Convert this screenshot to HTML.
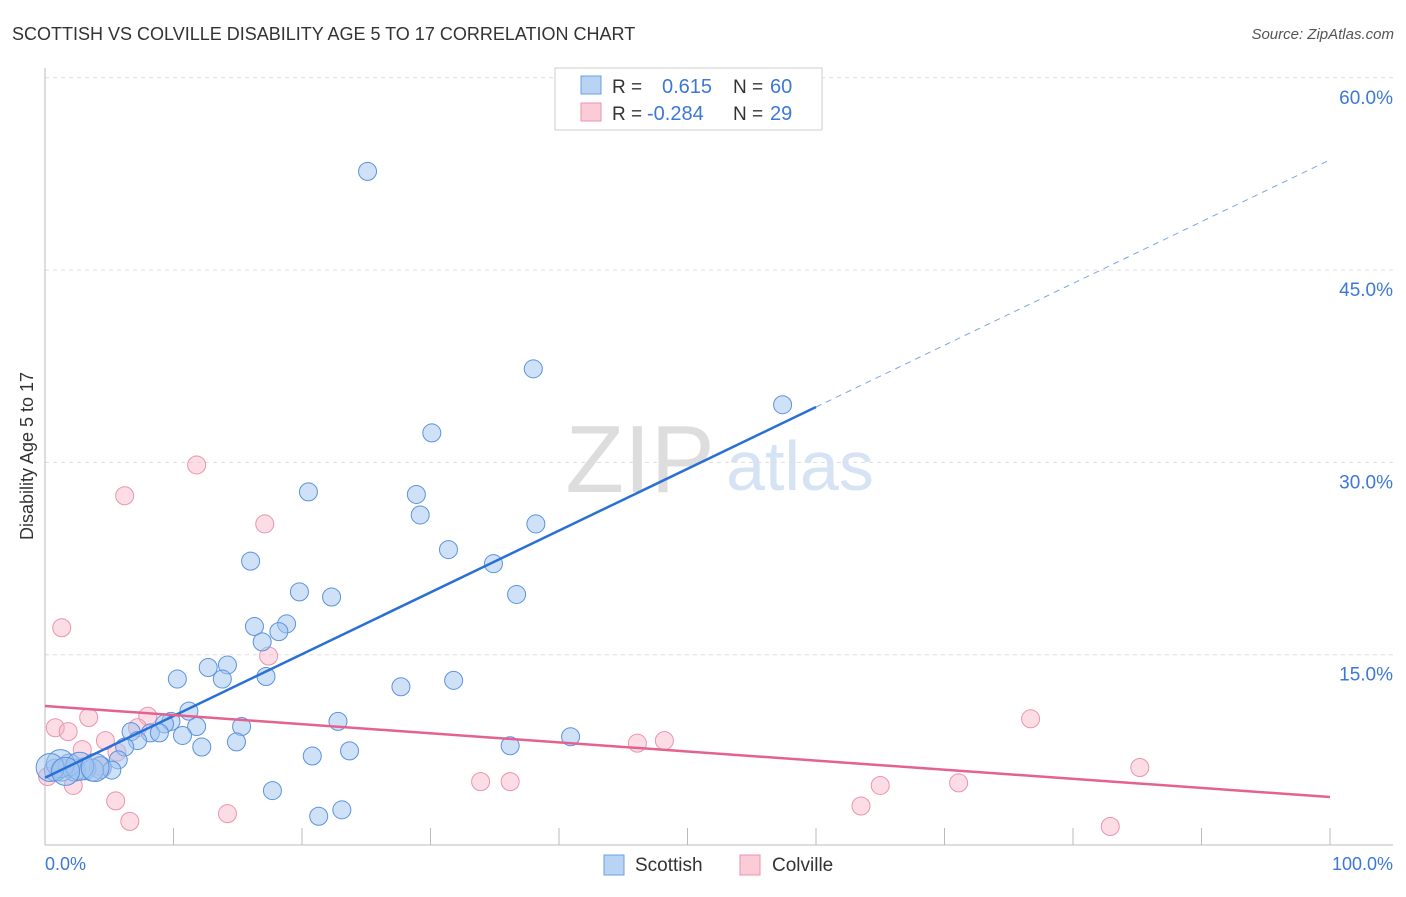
<!DOCTYPE html>
<html><head><meta charset="utf-8"><style>
body{margin:0;background:#fff;font-family:"Liberation Sans",sans-serif;}
svg text{font-family:"Liberation Sans",sans-serif;}
</style></head><body>
<svg id="c" width="1406" height="892" xmlns="http://www.w3.org/2000/svg">
<text x="12" y="40" font-size="18" fill="#333">SCOTTISH VS COLVILLE DISABILITY AGE 5 TO 17 CORRELATION CHART</text>
<text x="1394" y="39" font-size="15" fill="#555" text-anchor="end" font-style="italic">Source: ZipAtlas.com</text>
<text x="640" y="492" font-size="96" fill="#ddd" text-anchor="middle" font-family="Liberation Serif">ZIP</text>
<text x="800" y="490" font-size="70" fill="#d5e3f5" text-anchor="middle">atlas</text>
<text transform="translate(33,456) rotate(-90)" font-size="18" fill="#333" text-anchor="middle">Disability Age 5 to 17</text>
<g id="grid"></g><g id="marks"></g>
<g>
<rect x="555" y="68" width="267" height="62" fill="#fff" stroke="#ccc"/>
<rect x="581" y="76" width="20" height="18" fill="#b9d3f5" stroke="#6a9fe0"/>
<rect x="581" y="103" width="20" height="18" fill="#fbcbd8" stroke="#eb94ac"/>
<text x="612" y="93" font-size="19" fill="#333">R = </text><text x="662" y="93" font-size="20" fill="#3b78d8">0.615</text>
<text x="733" y="93" font-size="19" fill="#333">N = </text><text x="770" y="93" font-size="20" fill="#3b78d8">60</text>
<text x="612" y="120" font-size="19" fill="#333">R = </text><text x="647" y="120" font-size="20" fill="#3b78d8">-0.284</text>
<text x="733" y="120" font-size="19" fill="#333">N = </text><text x="770" y="120" font-size="20" fill="#3b78d8">29</text>
</g>
<g>
<rect x="604" y="855" width="20" height="20" fill="#b9d3f5" stroke="#6a9fe0"/>
<text x="635" y="871" font-size="19" fill="#333">Scottish</text>
<rect x="740" y="855" width="20" height="20" fill="#fbcbd8" stroke="#eb94ac"/>
<text x="772" y="871" font-size="19" fill="#333">Colville</text>
</g>
</svg>
<script>
const yTicks=[15,30,45,60];
const yTickLabels=["15.0%","30.0%","45.0%","60.0%"];
const xTickLabels=["0.0%","100.0%"];
const scottishX=[25.1,38.0,57.4,30.1,20.5,28.9,29.2,38.2,31.4,16.0,34.9,19.8,22.3,36.7,16.3,18.8,16.9,18.2,12.7,14.2,10.3,13.8,17.2,27.7,31.8,11.2,9.8,9.3,11.8,15.3,22.8,10.7,6.7,8.2,8.9,7.2,12.2,14.9,23.7,40.9,36.2,6.2,20.8,5.7,4.3,3.1,2.3,1.3,0.8,1.9,5.2,3.7,17.7,21.3,23.1,1.2,0.4,2.7,1.6,3.9];
const scottishY=[52.7,37.3,34.5,32.3,27.7,27.5,25.9,25.2,23.2,22.3,22.1,19.9,19.5,19.7,17.2,17.4,16.0,16.8,14.0,14.2,13.1,13.1,13.3,12.5,13.0,10.6,9.8,9.6,9.4,9.4,9.8,8.7,9.0,8.9,8.9,8.3,7.8,8.2,7.5,8.6,7.9,7.8,7.1,6.8,6.2,6.1,6.0,6.0,6.0,6.4,6.0,6.0,4.4,2.4,2.9,6.5,6.2,6.3,5.9,6.2];
const colvilleX=[11.8,6.2,17.1,1.3,17.4,76.7,3.4,8.0,0.8,1.8,7.2,4.7,5.6,2.9,46.1,48.2,33.9,36.2,65.0,71.1,85.2,63.5,5.5,14.2,6.6,82.9,2.2,0.2,4.3];
const colvilleY=[29.8,27.4,25.2,17.1,14.9,10.0,10.1,10.2,9.3,9.0,9.3,8.3,7.4,7.6,8.1,8.3,5.1,5.1,4.8,5.0,6.2,3.2,3.6,2.6,2.0,1.6,4.8,5.5,6.3];
const scottishFit=[5.4,0.482]; const colvilleFit=[11.0,-0.071];
const NS="http://www.w3.org/2000/svg";
const X=v=>45+v*12.85, Y=v=>847-v*12.82;
function mk(t,a,p){const e=document.createElementNS(NS,t);for(const k in a)e.setAttribute(k,a[k]);p.appendChild(e);return e;}
const g=document.getElementById('grid'),m=document.getElementById('marks');
yTicks.forEach((t,i)=>{
 const l=mk('line',{x1:45,x2:1393,y1:Y(t),y2:Y(t),stroke:'#ddd','stroke-dasharray':'4,4'},g);
 
 
 const tx=mk('text',{x:1393,y:Y(t)+26,'font-size':19,fill:'#3b78d8','text-anchor':'end'},g);tx.textContent=yTickLabels[i];
 
 
});
mk('line',{x1:45,x2:45,y1:68,y2:845,stroke:'#bbb'},g);
mk('line',{x1:45,x2:1393,y1:845,y2:845,stroke:'#bbb'},g);
for(let k=1;k<=10;k++){mk('line',{x1:X(k*10),x2:X(k*10),y1:828,y2:845,stroke:'#bbb'},g);}
[[0,'start',45],[100,'end',1393]].forEach((d,i)=>{const t=mk('text',{x:d[2],y:870,'font-size':18,fill:'#3b78d8','text-anchor':d[1]},g);t.textContent=xTickLabels[i];
 
 });
colvilleX.forEach((x,i)=>{const c=mk('circle',{cx:X(x),cy:Y(colvilleY[i]),r:9,fill:'rgba(248,180,200,0.45)',stroke:'#eb94ac'},m);
 
 });
scottishX.forEach((x,i)=>{const r=(x<5&&scottishY[i]<7)?(i>=55?14:11):9;const c=mk('circle',{cx:X(x),cy:Y(scottishY[i]),r:r,fill:'rgba(160,195,240,0.5)',stroke:'#5b93dd'},m);
 
 });
const f=(p,x)=>p[0]+p[1]*x;
let l=mk('line',{x1:X(0),y1:Y(f(scottishFit,0)),x2:X(60),y2:Y(f(scottishFit,60)),stroke:'#2a6fd6','stroke-width':2.5},m);


l=mk('line',{x1:X(60),y1:Y(f(scottishFit,60)),x2:X(100),y2:Y(f(scottishFit,100)),stroke:'#7aa6e6','stroke-width':1,'stroke-dasharray':'6,5'},m);


l=mk('line',{x1:X(0),y1:Y(f(colvilleFit,0)),x2:X(100),y2:Y(f(colvilleFit,100)),stroke:'#e4628f','stroke-width':2.5},m);


</script>
</body></html>
